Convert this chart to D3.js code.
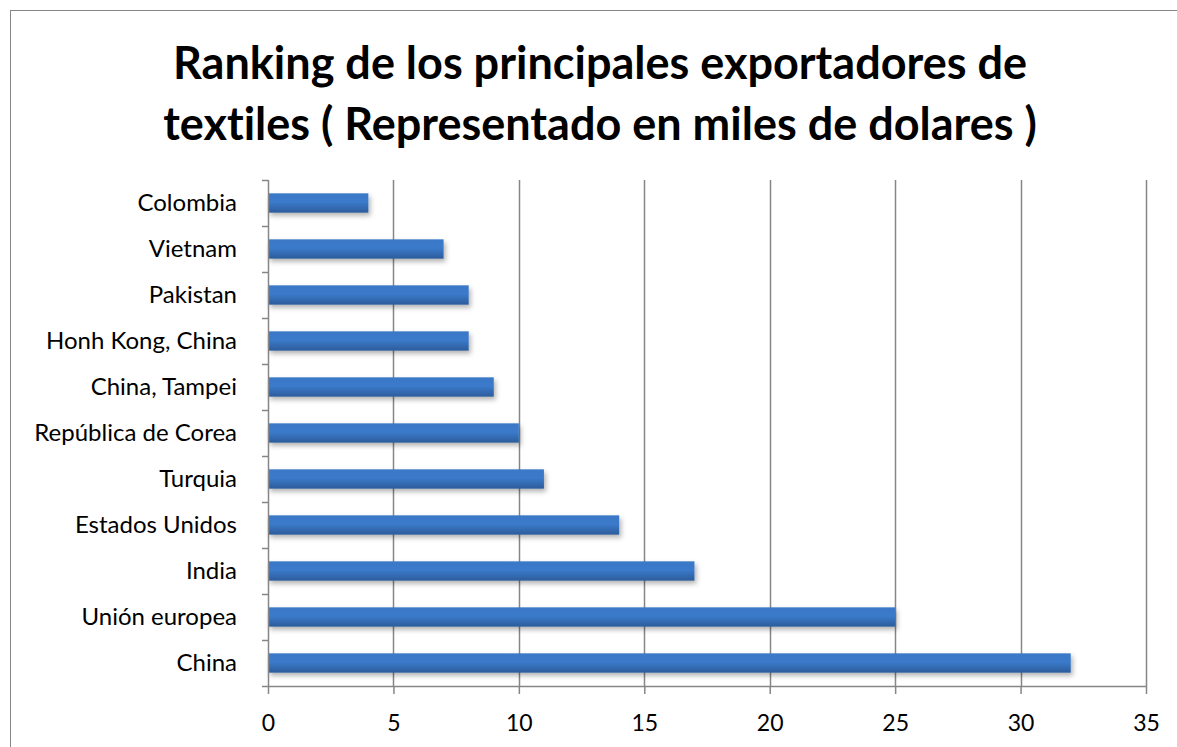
<!DOCTYPE html>
<html>
<head>
<meta charset="utf-8">
<script src="https://cdn.jsdelivr.net/npm/d3@7"></script>
<style>
  body { margin: 0; background: #fff; }
  svg { display: block; font-family: Lato, "Open Sans", sans-serif; font-variant-ligatures: none; }
</style>
</head>
<body>
<svg id="chart"></svg>
<script>
// values (miles de dolares)
const countries = ["Colombia", "Vietnam", "Pakistan", "Honh Kong, China", "China, Tampei",
  "República de Corea", "Turquia", "Estados Unidos", "India", "Unión europea", "China"];
const values = [4, 7, 8, 8, 9, 10, 11, 14, 17, 25, 32];
const xTicks = [0, 5, 10, 15, 20, 25, 30, 35];
const titleLines = ["Ranking de los principales exportadores de",
  "textiles ( Representado en miles de dolares )"];

const width = 1177, height = 747;
const margin = { top: 180, left: 268 };
const innerW = 878, innerH = 506;

const svg = d3.select("#chart")
  .attr("width", width)
  .attr("height", height);

// outer chart frame
svg.append("rect")
  .attr("x", 10.5).attr("y", 10.5)
  .attr("width", width + 20).attr("height", height + 20)
  .attr("fill", "none")
  .attr("stroke", "#868686")
  .attr("stroke-width", 1);

const defs = svg.append("defs");
const grad = defs.append("linearGradient")
  .attr("id", "bar-grad")
  .attr("x1", 0).attr("y1", 0).attr("x2", 0).attr("y2", 1);
grad.append("stop").attr("offset", "0%").attr("stop-color", "#3a78c6");
grad.append("stop").attr("offset", "45%").attr("stop-color", "#3b7acb");
grad.append("stop").attr("offset", "100%").attr("stop-color", "#2c5c9a");

const shadow = defs.append("filter")
  .attr("id", "bar-shadow")
  .attr("x", "-5%").attr("y", "-30%").attr("width", "115%").attr("height", "190%");
shadow.append("feDropShadow")
  .attr("dx", 2).attr("dy", 3).attr("stdDeviation", 2.5)
  .attr("flood-color", "#000").attr("flood-opacity", 0.3);

// title
svg.append("text")
  .attr("x", 600)
  .attr("text-anchor", "middle")
  .style("font-size", "45px")
  .style("font-weight", "bold")
  .attr("fill", "#000")
  .selectAll("tspan")
  .data(titleLines)
  .enter().append("tspan")
  .attr("x", 600)
  .attr("y", (d, i) => 79 + i * 61)
  .text(d => d);

const x = d3.scaleLinear().domain([0, 35]).range([0, innerW]);
const y = d3.scaleBand().domain(countries).range([0, innerH]).paddingInner(0.58).paddingOuter(0.29);

const g = svg.append("g")
  .attr("transform", `translate(${margin.left},${margin.top})`);

// vertical gridlines
g.append("g")
  .selectAll("line")
  .data(xTicks.slice(1))
  .enter().append("line")
  .attr("x1", d => Math.round(x(d)) + 0.5)
  .attr("x2", d => Math.round(x(d)) + 0.5)
  .attr("y1", 0)
  .attr("y2", innerH)
  .attr("stroke", "#868686")
  .attr("stroke-width", 1.5);

// bars
g.append("g")
  .selectAll("rect")
  .data(countries)
  .enter().append("rect")
  .attr("x", 0)
  .attr("y", d => y(d))
  .attr("width", (d, i) => x(values[i]))
  .attr("height", y.bandwidth())
  .attr("fill", "url(#bar-grad)")
  .attr("filter", "url(#bar-shadow)");

// x axis
const xAxis = g.append("g")
  .attr("transform", `translate(0,${innerH})`)
  .call(d3.axisBottom(x).tickValues(xTicks).tickSize(8).tickPadding(21).tickSizeOuter(0));
xAxis.select(".domain").attr("stroke", "#868686").attr("stroke-width", 1.5);
xAxis.selectAll(".tick line").attr("stroke", "#868686").attr("stroke-width", 1.5);
xAxis.selectAll(".tick text")
  .style("font-size", "23px")
  .style("font-family", "Lato, sans-serif")
  .attr("fill", "#000");

// y axis: ticks between categories
const yEdges = d3.range(countries.length + 1).map(i => i * innerH / countries.length);
g.append("line")
  .attr("x1", 0.5).attr("x2", 0.5)
  .attr("y1", 0).attr("y2", innerH)
  .attr("stroke", "#868686").attr("stroke-width", 1.5);
g.append("g")
  .selectAll("line")
  .data(yEdges)
  .enter().append("line")
  .attr("x1", -6).attr("x2", 0)
  .attr("y1", d => Math.round(d) + 0.5)
  .attr("y2", d => Math.round(d) + 0.5)
  .attr("stroke", "#868686").attr("stroke-width", 1.5);

g.append("g")
  .selectAll("text")
  .data(countries)
  .enter().append("text")
  .attr("x", -31)
  .attr("y", d => y(d) + y.bandwidth() / 2)
  .attr("dy", "0.35em")
  .attr("text-anchor", "end")
  .style("font-size", "24px")
  .attr("fill", "#000")
  .text(d => d);
</script>
</body>
</html>
